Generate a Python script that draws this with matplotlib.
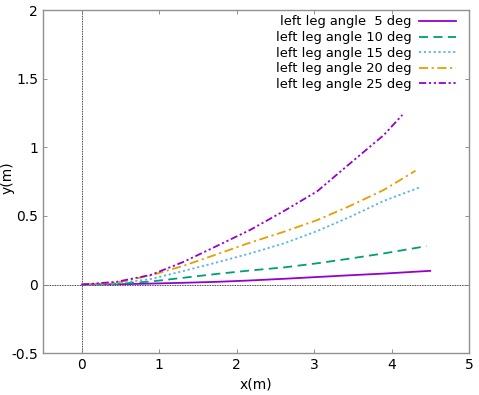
import numpy as np
import matplotlib
matplotlib.use("Agg")
import matplotlib.pyplot as plt

# values
labels = ["left leg angle  5 deg", "left leg angle 10 deg", "left leg angle 15 deg",
          "left leg angle 20 deg", "left leg angle 25 deg"]

x_5 = [0.0, 0.45, 0.89, 1.32, 1.75, 2.18, 2.61, 3.04, 3.47, 3.90, 4.5]
y_5 = [0.0, 0.002, 0.007, 0.013, 0.02, 0.03, 0.042, 0.055, 0.068, 0.08, 0.10]

x_10 = [0.0, 0.45, 0.89, 1.32, 1.75, 2.18, 2.61, 3.04, 3.47, 3.90, 4.45]
y_10 = [0.0, 0.005, 0.022, 0.05, 0.078, 0.103, 0.125, 0.155, 0.19, 0.227, 0.28]

x_15 = [0.0, 0.45, 0.89, 1.32, 1.75, 2.18, 2.61, 3.04, 3.47, 3.90, 4.37]
y_15 = [0.0, 0.008, 0.04, 0.10, 0.162, 0.228, 0.30, 0.39, 0.495, 0.61, 0.71]

x_20 = [0.0, 0.45, 0.89, 1.32, 1.75, 2.18, 2.61, 3.04, 3.47, 3.90, 4.31]
y_20 = [0.0, 0.014, 0.067, 0.138, 0.222, 0.307, 0.385, 0.47, 0.575, 0.69, 0.83]

x_25 = [0.0, 0.45, 0.89, 1.32, 1.75, 2.18, 2.61, 3.04, 3.47, 3.90, 4.14]
y_25 = [0.0, 0.02, 0.07, 0.167, 0.283, 0.40, 0.536, 0.68, 0.886, 1.09, 1.237]

xs = [x_5, x_10, x_15, x_20, x_25]
ys = [y_5, y_10, y_15, y_20, y_25]
colors = ["#9400d3", "#009e73", "#56b4e9", "#e69f00", "#9400d3"]
styles = ["-", (0, (5, 3)), (0, (1.2, 1.5)), (0, (5, 2, 1.2, 2)), (0, (4, 1.5, 1.2, 1.5, 1.2, 1.5))]

fig = plt.figure(figsize=(4.79, 3.95), dpi=100)
ax = fig.add_axes([0.09, 0.106, 0.889, 0.868])

for x, y, c, ls, lab in zip(xs, ys, colors, styles, labels):
    ax.plot(x, y, color=c, linestyle=ls, linewidth=1.3, label=lab)

ax.axhline(0, color="black", linestyle=(0, (1, 1)), linewidth=0.6, zorder=0)
ax.axvline(0, color="black", linestyle=(0, (1, 1)), linewidth=0.6, zorder=0)

ax.set_xlim(-0.5, 5)
ax.set_ylim(-0.5, 2)
ax.set_xticks([0, 1, 2, 3, 4, 5])
ax.set_yticks([-0.5, 0, 0.5, 1, 1.5, 2])
ax.set_xticklabels(["0", "1", "2", "3", "4", "5"])
ax.set_yticklabels(["-0.5", "0", "0.5", "1", "1.5", "2"])
ax.tick_params(direction="in", length=3, width=0.6, color="#808080", labelsize=10,
               top=True, right=True)
for s in ax.spines.values():
    s.set_color("#909090")
    s.set_linewidth(1.0)

ax.set_xlabel("x(m)", fontsize=10)
ax.set_ylabel("y(m)", fontsize=10)
ax.yaxis.set_label_coords(-0.068, 0.513)

ax.legend(loc="upper right", frameon=False, markerfirst=False, fontsize=9.4,
          handlelength=2.8, labelspacing=0.2, borderaxespad=0.0,
          handletextpad=0.6, bbox_to_anchor=(0.982, 1.0))

fig.savefig("out.png", dpi=100)
